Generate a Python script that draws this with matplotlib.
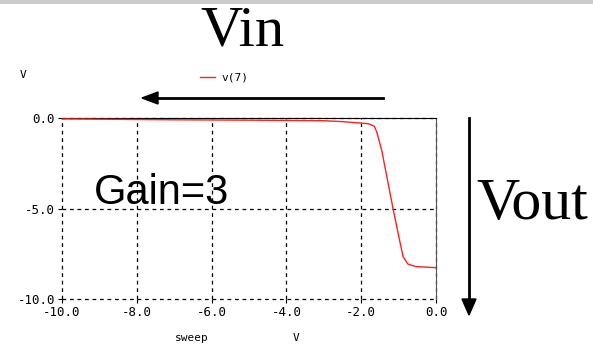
import numpy as np
import matplotlib.pyplot as plt

# transfer curve v(7) vs sweep voltage
vin = [-10.0, -7.0, -5.0, -3.0, -2.5, -2.0, -1.8, -1.65, -1.58, -1.45, -1.3,
       -1.14, -1.0, -0.88, -0.75, -0.55, -0.43, 0.0]
vout = [-0.05, -0.1, -0.12, -0.15, -0.2, -0.28, -0.32, -0.45, -0.8, -1.8, -3.4,
        -5.1, -6.5, -7.66, -8.07, -8.2, -8.22, -8.27]
xticks = [-10.0, -8.0, -6.0, -4.0, -2.0, 0.0]
yticks = [-10.0, -5.0, 0.0]

W, H = 593, 349
fig = plt.figure(figsize=(W / 100, H / 100), dpi=100)
fig.patch.set_facecolor('white')

# grey strip at the very top
fig.patches.append(plt.Rectangle((0, 1 - 4 / H), 1, 4 / H, transform=fig.transFigure,
                                 facecolor='#cccccc', edgecolor='none'))

ax = fig.add_axes([62 / W, 1 - 299 / H, (436 - 62) / W, (299 - 118) / H])
ax.plot(vin, vout, color='#ff2020', lw=1.0, zorder=3)
ax.set_xlim(-10, 0)
ax.set_ylim(-10, 0)
ax.set_xticks(xticks)
ax.set_yticks(yticks)
mono = 'DejaVu Sans Mono'
ax.set_xticklabels(['%.1f' % t for t in xticks], family=mono, fontsize=9)
ax.set_yticklabels(['%.1f' % t for t in yticks], family=mono, fontsize=9)
ax.tick_params(length=3, width=0.8, pad=2)
ax.grid(True, color='black', ls=(0, (3, 3)), lw=0.9)
for gl in ax.get_xgridlines() + ax.get_ygridlines():
    gl.set_clip_on(False)
for s in ['left', 'bottom']:
    ax.spines[s].set_visible(False)
ax.spines['top'].set_color('black')
ax.spines['right'].set_color('#555555')

fig.text(20 / W, 1 - 75 / H, 'V', family=mono, fontsize=8, ha='left', va='center')
fig.text(175 / W, 1 - 338 / H, 'sweep', family=mono, fontsize=8, ha='left', va='center')
fig.text(296 / W, 1 - 338 / H, 'V', family=mono, fontsize=8, ha='center', va='center')

# legend entry
fig.add_artist(plt.Line2D([200 / W, 215 / W], [1 - 77 / H] * 2, color='#ff2020', lw=1.0))
fig.text(221 / W, 1 - 77 / H, 'v(7)', family=mono, fontsize=8, ha='left', va='center')

# annotations
fig.text(242 / W, 1 - 31 / H, 'Vin', family='Liberation Serif', fontsize=42,
         ha='center', va='center')
fig.text(532 / W, 1 - 205 / H, 'Vout', family='Liberation Serif', fontsize=43,
         ha='center', va='center')
fig.text(161 / W, 1 - 193 / H, 'Gain=3', family='Liberation Sans', fontsize=30,
         ha='center', va='center')

fig.add_artist(plt.Line2D([156 / W, 383 / W], [1 - 98 / H] * 2, color='black', lw=2))
fig.add_artist(plt.Polygon([[142 / W, 1 - 98 / H], [158 / W, 1 - 92 / H], [158 / W, 1 - 104 / H]],
                           closed=True, color='black', transform=fig.transFigure))
fig.add_artist(plt.Line2D([469 / W] * 2, [1 - 118 / H, 1 - 300 / H], color='black', lw=2))
fig.add_artist(plt.Polygon([[469 / W, 1 - 315 / H], [462 / W, 1 - 299 / H], [476 / W, 1 - 299 / H]],
                           closed=True, color='black', transform=fig.transFigure))

fig.savefig('out.png', dpi=100)
